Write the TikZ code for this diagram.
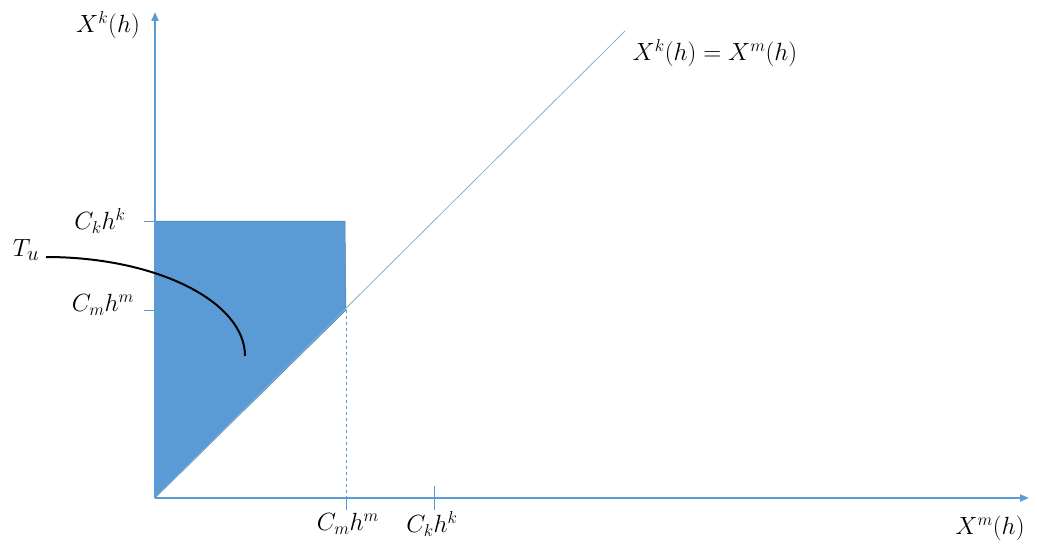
\documentclass[tikz,border=0pt]{standalone}
\usetikzlibrary{arrows.meta}
\definecolor{axblue}{RGB}{91,155,213}
\definecolor{edgeblue}{RGB}{70,125,175}
\definecolor{diagblue}{RGB}{140,175,200}
\begin{document}
\begin{tikzpicture}[x=1pt,y=-1pt,
  axis/.style={draw=axblue,line width=2pt,-{Triangle[length=9pt,width=7pt]}},
  tick/.style={draw=axblue,line width=1pt},
  lab/.style={font=\fontsize{23}{27}\selectfont,inner sep=0pt},
  biglab/.style={font=\fontsize{28}{32}\selectfont,inner sep=0pt}]
\useasboundingbox (0,0) rectangle (1037,551);
\coordinate (O) at (155,498);
\coordinate (Ytop) at (155,12);
\coordinate (Xend) at (1029,498);
\coordinate (A) at (155,221);
\coordinate (B) at (345,221);
\coordinate (C) at (346,310);
\coordinate (D) at (625,31);
\coordinate (Cx) at (346,498);
% filled region
\fill[axblue,draw=edgeblue,line width=0.5pt] (O) -- (A) -- (B) -- (C) -- cycle;
% diagonal
\draw[diagblue,line width=0.8pt] (O) -- (D);
% dashed
\draw[axblue,dashed,line width=0.8pt] (C) -- (Cx);
% axes
\draw[axis] (O) -- (Ytop);
\draw[axis] (O) -- (Xend);
% ticks
\draw[tick] (144,221) -- (A);
\draw[tick] (144,310) -- (155,310);
\draw[tick] (346,498) -- (346,510);
\draw[tick] (434,486) -- (434,510);
% curve
\coordinate (T0) at (46,257);
\draw[black,line width=2pt] (T0) arc[start angle=90,end angle=0,x radius=199,y radius=-99];
% labels
\node[lab] (ly) at (108,25) {$X^k(h)$};
\node[lab] (lck) at (100,221) {$C_kh^k$};
\node[biglab] (ltu) at (26,250) {$T_u$};
\node[lab] (lcm) at (103,305) {$C_mh^m$};
\node[lab] (lxcm) at (348,524) {$C_mh^m$};
\node[lab] (lxck) at (432,524) {$C_kh^k$};
\node[lab] (lx) at (990,528) {$X^m(h)$};
\node[lab] (ld) at (715,53) {$X^k(h)=X^m(h)$};
\end{tikzpicture}
\end{document}
